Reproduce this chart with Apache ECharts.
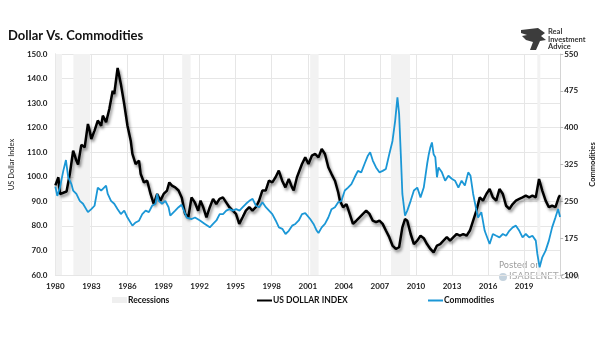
<!DOCTYPE html>
<html>
<head>
<meta charset="utf-8">
<script src="https://cdn.jsdelivr.net/npm/echarts@6/dist/echarts.min.js"></script>
<style>
html,body{margin:0;padding:0;background:#fff;}
#chart{width:605px;height:341px;}
</style>
</head>
<body>
<div id="chart"></div>
<script>
// ---- Data ----
const tickLabels = ['1980','1983','1986','1989','1992','1995','1998','2001','2004','2007','2010','2013','2016','2019'];

const recessions = [[1980.0,1980.55],[1981.5,1982.9],[1990.55,1991.25],[2001.2,2001.9],[2007.92,2009.5],[2020.1,2020.35]];

const dollarYears = [1980.0,1980.05,1980.25,1980.38,1980.66,1980.93,1981.2,1981.48,1981.75,1981.89,1982.16,1982.44,1982.71,1982.85,1982.99,1983.26,1983.53,1983.81,1983.95,1984.22,1984.49,1984.77,1984.9,1985.18,1985.45,1985.73,1986.0,1986.27,1986.41,1986.68,1986.96,1987.1,1987.37,1987.64,1987.92,1988.19,1988.47,1988.74,1989.01,1989.29,1989.48,1989.7,1989.97,1990.25,
1990.52,1990.79,1991.06,1991.33,1991.6,1991.88,1992.08,1992.3,1992.57,1992.85,1993.12,1993.39,1993.66,1993.94,1994.21,1994.48,1994.76,1995.03,1995.3,1995.58,1995.85,1996.13,1996.4,1996.68,1996.95,1997.22,1997.5,1997.77,1998.05,1998.32,1998.59,1998.87,1999.14,1999.42,1999.69,1999.83,2000.1,2000.52,2000.79,
2001.06,2001.34,2001.61,2001.89,2002.16,2002.43,2002.71,2002.98,2003.26,2003.53,2003.67,2003.94,2004.22,2004.49,2004.76,2005.04,2005.31,2005.59,2005.86,2006.13,2006.41,2006.68,2006.96,2007.23,2007.5,2007.78,2008.05,2008.33,2008.6,2008.87,2009.09,2009.28,2009.56,2009.83,2010.11,2010.38,2010.65,
2010.92,2011.2,2011.47,2011.75,2012.02,2012.29,2012.57,2012.84,2013.12,2013.39,2013.66,2013.94,2014.21,2014.49,2014.76,2015.03,2015.31,2015.58,2015.86,2016.13,2016.4,2016.68,2016.95,2017.23,2017.5,2017.77,2018.05,2018.32,2018.6,2018.87,2019.14,2019.42,2019.69,2019.97,2020.24,2020.51,2020.79,2021.06,2021.33,2021.61,2021.88,2021.99];
const dollarValues = [96.5,95.7,99.8,93,93.5,94,101,110.6,106.6,105,113,112,121.5,118.8,115.4,118.8,122.9,120.8,124.9,122.2,127.6,135,133.7,144.3,137.8,129.6,120.8,114.7,109.3,105.2,106.6,101.1,97.7,98.4,93,88.9,93,90.3,93,94.4,97.7,96.4,95.7,94.4,
91.5,84.9,83.5,91.6,89.6,86.2,90.3,87.6,83.5,87.6,91,88.9,91,91.6,89.6,87.6,86.2,84.9,80.8,83.5,86.2,87.6,86.2,87.6,90.3,94.4,94.4,98.4,97.7,99.8,102.5,98.4,95.7,99.1,95.7,94.4,99.8,105.2,107.9,
105.2,108.6,109.3,107.9,111.3,109.3,103.9,101.1,98.4,93.7,90.3,87.6,88.9,84.9,80.8,82.1,83.5,84.9,86.2,84.9,82.1,81.5,82.1,80.8,78.1,75.4,72,70.6,71.3,79.4,82.8,82.1,76.7,72.6,74,76,75,
72.6,70.6,69.2,72,72.6,74,75.4,74,75.4,76.7,76,76.7,76,78.1,82.1,86.2,91.6,90.3,93,95,91.6,90.3,95,93,88.2,86.9,88.9,90.3,91,91.6,92.3,91.6,92.3,91.6,99.1,94.4,90.3,87.6,88.2,87.6,91.6,92.5];

const commYears = [1980.0,1980.16,1980.25,1980.38,1980.66,1980.88,1981.07,1981.34,1981.48,1981.75,1982.03,1982.3,1982.71,1982.99,1983.26,1983.53,1983.81,1984.22,1984.36,1984.63,1984.9,1985.18,1985.45,1985.73,1986.0,1986.41,1986.68,1986.96,1987.23,1987.51,1987.78,1988.05,1988.33,1988.47,1988.6,1988.88,1989.15,1989.42,1989.56,1989.97,1990.25,
1990.5,1990.93,1991.34,1991.62,1992.03,1992.44,1992.85,1993.12,1993.4,1993.67,1993.95,1994.22,1994.49,1994.77,1995.04,1995.32,1995.59,1995.86,1996.14,1996.41,1996.69,1996.96,1997.23,1997.51,1997.78,1998.05,1998.33,1998.6,1998.88,1999.15,1999.42,1999.7,1999.97,2000.25,2000.52,
2000.79,2001.2,2001.48,2001.75,2001.89,2002.16,2002.43,2002.71,2002.98,2003.26,2003.53,2003.8,2004.08,2004.35,2004.63,2004.9,2005.17,2005.45,2005.72,2006.0,2006.19,2006.41,2006.68,2006.96,2007.23,2007.5,2007.78,2008.05,2008.27,2008.46,2008.6,2008.74,2008.87,2009.09,2009.28,2009.56,2009.83,2010.11,2010.38,2010.65,2010.93,
2011.07,2011.2,2011.33,2011.47,2011.61,2011.75,2011.88,2012.16,2012.43,2012.7,2012.98,2013.25,2013.53,2013.8,2014.07,2014.35,2014.54,2014.76,2014.98,2015.17,2015.44,2015.72,2016.13,2016.4,2016.68,2016.95,2017.23,2017.5,2017.77,2018.05,2018.32,2018.6,2018.87,2019.14,2019.42,2019.69,2019.97,2020.1,2020.29,2020.51,2020.79,2021.06,2021.33,2021.61,2021.83,2021.99];
const commValues = [280,261,258,278,312,334,299,285,272,265,251,245,228,234,241,278,272,282,265,251,245,234,224,231,217,200.5,207,210.6,224,231,228,241,245,265,251,245,251,238,221,231,238,
243,217,214,217,211,204,197,204,211,224,224,231,234,231,234,231,238,245,251,255,241,238,248,238,231,224,211,197,194,183.5,190,200.5,204,211,224,
226,214,204,190,185.5,197,204,217,234,238,248,251,272,278,285,299,312,309,326,343,350,333,319,309,312,316,346,373,414,462,428,346,265,221,231,251,272,278,258,278,326,
346,360,370,346,340,299,319,309,292,302,296,292,278,292,282,309,302,265,238,217,228,190,163,183.5,180,176.7,183.5,180,190,197,200.5,190,176.7,183.5,176.7,180,170,143,115.6,136,149.6,170,197,217.4,234.4,218];

// ---- Build ----
const pair = (xs, ys) => xs.map((x, i) => [x, ys[i]]);
const chart = echarts.init(document.getElementById('chart'), null, {renderer: 'canvas'});
const FONT = 'Lato';
const gridColor = '#e6e6e6';

chart.setOption({
  animation: false,
  backgroundColor: '#ffffff',
  textStyle: {fontFamily: FONT},
  grid: {left: 52, right: 42, top: 54, bottom: 66, containLabel: false},
  xAxis: {
    type: 'value', min: 1980, max: 2022, interval: 3, position: 'bottom',
    axisLine: {show: true, lineStyle: {color: gridColor}},
    axisTick: {show: false},
    axisLabel: {
      show: true, margin: 7, color: '#222', fontSize: 8, fontWeight: 'bold', fontFamily: FONT,
      formatter: v => tickLabels.indexOf(String(Math.round(v))) >= 0 ? String(Math.round(v)) : ''
    },
    splitLine: {show: true, lineStyle: {color: gridColor, width: 1}}
  },
  yAxis: [
    {
      type: 'value', min: 60, max: 150, interval: 10, position: 'left',
      name: 'US Dollar Index', nameLocation: 'middle', nameRotate: 90, nameGap: 29,
      nameTextStyle: {fontSize: 7.5, color: '#222', fontFamily: FONT},
      axisLine: {show: true, lineStyle: {color: '#d4d4d4'}},
      axisTick: {show: false},
      axisLabel: {color: '#222', fontSize: 8, fontWeight: 'bold', margin: 8, formatter: v => v.toFixed(1)},
      splitLine: {show: true, lineStyle: {color: gridColor, width: 1}}
    },
    {
      type: 'value', min: 100, max: 550, interval: 75, position: 'right',
      name: 'Commodities', nameLocation: 'middle', nameRotate: 90, nameGap: 25,
      nameTextStyle: {fontSize: 7.5, fontWeight: 'bold', color: '#222', fontFamily: FONT},
      axisLine: {show: true, lineStyle: {color: '#d4d4d4'}},
      axisTick: {show: true, length: 3, lineStyle: {color: '#bbb'}},
      axisLabel: {color: '#222', fontSize: 8, fontWeight: 'bold', margin: 4},
      splitLine: {show: false}
    }
  ],
  series: [
    {
      name: 'US DOLLAR INDEX', type: 'line', yAxisIndex: 0,
      data: pair(dollarYears, dollarValues), showSymbol: false, symbol: 'none',
      lineStyle: {color: '#000', width: 2.5, shadowColor: 'rgba(0,0,0,0.45)', shadowBlur: 3, shadowOffsetX: 1.5, shadowOffsetY: 2.5},
      z: 3,
      markArea: {
        silent: true,
        itemStyle: {color: '#f2f2f2', opacity: 1},
        data: recessions.map(r => [{xAxis: r[0]}, {xAxis: r[1]}])
      }
    },
    {
      name: 'Commodities', type: 'line', yAxisIndex: 1,
      data: pair(commYears, commValues), showSymbol: false, symbol: 'none',
      lineStyle: {color: '#1b97d6', width: 1.8},
      z: 4
    }
  ],
  graphic: [
    {type: 'text', left: 8, top: 29, style: {text: 'Dollar Vs. Commodities', font: 'bold 13px Lato', fill: '#111'}},
    // logo
    {type: 'polygon', shape: {points: [[521,30],[538,28],[545,33],[541,36],[546,40],[540,41],[536,50],[530,50],[533,42],[526,40],[522,36],[527,35],[521,33]]}, style: {fill: '#3c3c3c'}},
    {type: 'text', left: 548, top: 28, style: {text: 'Real\nInvestment\nAdvice', font: 'bold 7.5px Lato', lineHeight: 7.5, fill: '#333'}},
    // watermark
    {type: 'text', left: 499, top: 261, style: {text: 'Posted on', font: '8.5px "DejaVu Sans"', fill: '#9a9a9a'}},
    {type: 'circle', shape: {cx: 503, cy: 277, r: 4}, style: {fill: '#c5d3de'}},
    {type: 'text', left: 509, top: 272, style: {text: 'ISABELNET.com', font: '9px "DejaVu Sans"', fill: '#a9a9a9'}},
    // legend
    {type: 'rect', shape: {x: 112, y: 297, width: 15, height: 6}, style: {fill: '#efefef'}},
    {type: 'text', left: 128, top: 296, style: {text: 'Recessions', font: 'bold 8.5px Lato', fill: '#111'}},
    {type: 'line', shape: {x1: 257, y1: 300.5, x2: 272, y2: 300.5}, style: {stroke: '#000', lineWidth: 2}},
    {type: 'text', left: 273, top: 296, style: {text: 'US DOLLAR INDEX', font: 'bold 8.5px Lato', fill: '#111'}},
    {type: 'line', shape: {x1: 428, y1: 300.5, x2: 443, y2: 300.5}, style: {stroke: '#1b97d6', lineWidth: 2}},
    {type: 'text', left: 444, top: 296, style: {text: 'Commodities', font: 'bold 8.5px Lato', fill: '#111'}}
  ]
});
</script>
</body>
</html>
